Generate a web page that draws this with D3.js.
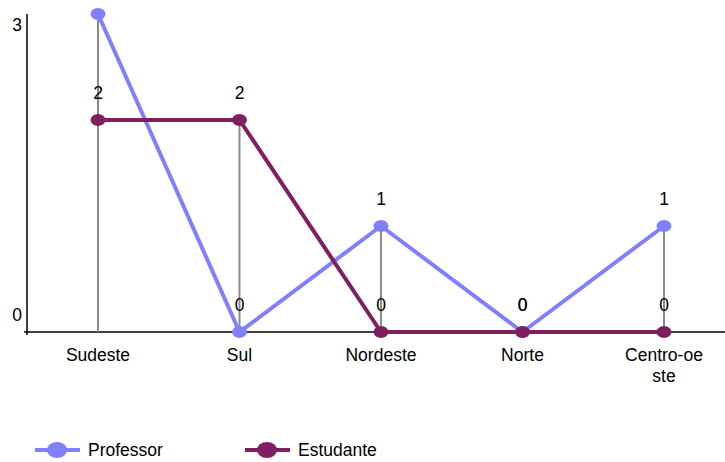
<!DOCTYPE html>
<html>
<head>
<meta charset="utf-8">
<script src="https://cdn.jsdelivr.net/npm/d3@7"></script>
<style>
  html, body { margin: 0; padding: 0; background: #fff; }
  svg text { font-family: "Liberation Sans", Arial, Helvetica, sans-serif; fill: #000; }
</style>
</head>
<body>
<svg id="chart" width="725" height="462"></svg>
<script>
// Regions on the x axis (the last one wraps onto two lines)
const categories = ["Sudeste", "Sul", "Nordeste", "Norte", "Centro-oeste"];
const categoryLines = [["Sudeste"], ["Sul"], ["Nordeste"], ["Norte"], ["Centro-oe", "ste"]];
const professor = [3, 0, 1, 0, 1];
const estudante = [2, 2, 0, 0, 0];
const yTickValues = [0, 3];

const seriesList = [
  { name: "Professor", values: professor, color: "#8080ff" },
  { name: "Estudante", values: estudante, color: "#801f60" }
];

const svg = d3.select("#chart");
const fontSize = 17.5;

const x = d3.scalePoint().domain(categories).range([98, 664]);
const y = d3.scaleLinear().domain([0, 3]).range([332, 14]);

// Axes
svg.append("line")
  .attr("x1", 24).attr("x2", 725)
  .attr("y1", y(0)).attr("y2", y(0))
  .attr("stroke", "#000").attr("stroke-width", 1.5);
svg.append("line")
  .attr("x1", 27).attr("x2", 27)
  .attr("y1", y(3)).attr("y2", y(0) + 3)
  .attr("stroke", "#000").attr("stroke-width", 1.5);

// Y tick labels
svg.selectAll("text.ytick").data(yTickValues).join("text")
  .attr("class", "ytick")
  .attr("x", 22)
  .attr("y", d => d === 0 ? y(d) - 11 : y(d) + 17)
  .attr("text-anchor", "end")
  .attr("font-size", fontSize)
  .text(d => d);

// Category labels
categories.forEach((c, i) => {
  const t = svg.append("text")
    .attr("x", x(c)).attr("y", 361)
    .attr("text-anchor", "middle")
    .attr("font-size", fontSize);
  categoryLines[i].forEach((ln, j) => {
    t.append("tspan").attr("x", x(c)).attr("dy", j === 0 ? 0 : 21).text(ln);
  });
});

// Drop lines from the highest value at each region to the axis
categories.forEach((c, i) => {
  const m = d3.max(seriesList, s => s.values[i]);
  if (m > 0) {
    svg.append("line")
      .attr("x1", x(c)).attr("x2", x(c))
      .attr("y1", y(m)).attr("y2", y(0))
      .attr("stroke", "#8a8a8a").attr("stroke-width", 2);
  }
});

// Series lines and markers
const line = d3.line()
  .x((d, i) => x(categories[i]))
  .y(d => y(d));

seriesList.forEach(s => {
  svg.append("path")
    .datum(s.values)
    .attr("d", line)
    .attr("fill", "none")
    .attr("stroke", s.color)
    .attr("stroke-width", 4)
    .attr("stroke-linejoin", "round");
  svg.selectAll(null).data(s.values).join("ellipse")
    .attr("cx", (d, i) => x(categories[i]))
    .attr("cy", d => y(d))
    .attr("rx", 7.5).attr("ry", 6)
    .attr("fill", s.color);
});

// Value labels above each point (a label that would sit above the top edge is skipped)
seriesList.forEach(s => {
  svg.selectAll(null).data(s.values.filter(d => y(d) - 21 > 0).length ? s.values : []).join("text")
    .attr("x", (d, i) => x(categories[i]))
    .attr("y", d => y(d) - 21)
    .attr("text-anchor", "middle")
    .attr("font-size", fontSize)
    .attr("display", d => (y(d) - 21 > 0 ? null : "none"))
    .text(d => d);
});

// Legend
const legendItems = [
  { s: seriesList[0], x0: 35 },
  { s: seriesList[1], x0: 245 }
];
legendItems.forEach(({ s, x0 }) => {
  const ly = 450;
  svg.append("line")
    .attr("x1", x0).attr("x2", x0 + 45)
    .attr("y1", ly).attr("y2", ly)
    .attr("stroke", s.color).attr("stroke-width", 4);
  svg.append("ellipse")
    .attr("cx", x0 + 22).attr("cy", ly)
    .attr("rx", 10).attr("ry", 8)
    .attr("fill", s.color);
  svg.append("text")
    .attr("x", x0 + 53).attr("y", ly + 6)
    .attr("font-size", fontSize)
    .text(s.name);
});
</script>
</body>
</html>
